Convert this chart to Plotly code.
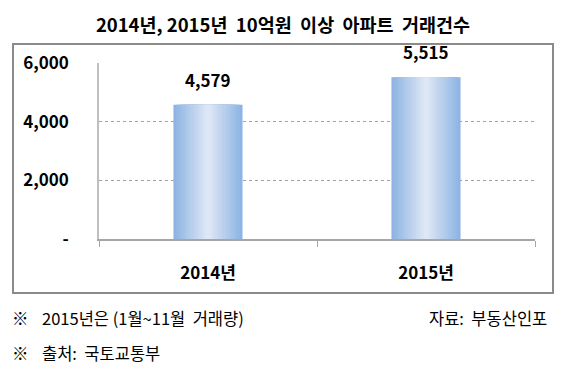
import plotly.graph_objects as go

categories = ["2014년", "2015년"]
values = [4579, 5515]
value_labels = ["4,579", "5,515"]
y_tickvals = [0, 2000, 4000, 6000]
y_ticktext = ["-", "2,000", "4,000", "6,000"]
title_text = "2014년, 2015년  10억원  이상  아파트  거래건수"
note1 = "2015년은 (1월~11월  거래량)"
note2 = "출처:  국토교통부"
source_text = "자료:  부동산인포"

FONT = "Noto Sans CJK KR, Noto Sans, sans-serif"

OFF = 8  # default body margin of the page
W, H = 565 - OFF, 373 - OFF
L, R, T, B = 99 - OFF, 30, 63 - OFF, 134
pw, ph = W - L - R, H - T - B

def px_x(x):
    return (x - OFF - L) / pw

def px_y(y):
    return (H - B - (y - OFF)) / ph

fig = go.Figure()

# gradient bars: overlaid bars of decreasing width, light at centre
edge = (141, 180, 227)
centre = (222, 231, 245)
N = 14
bar_w = 0.317
for k in range(N):
    t = k / (N - 1)
    c = tuple(round(edge[i] + (centre[i] - edge[i]) * t) for i in range(3))
    fig.add_trace(go.Bar(
        x=categories, y=values,
        width=bar_w * (1 - k / N),
        marker=dict(color="rgb(%d,%d,%d)" % c, line=dict(width=0)),
        hoverinfo="skip", showlegend=False,
    ))

for cat, v, lab in zip(categories, values, value_labels):
    fig.add_annotation(x=cat, y=v, text="<b>%s</b>" % lab, showarrow=False,
                       yanchor="bottom", yshift=11,
                       font=dict(family=FONT, size=17, color="#000"))

# outer frame
fig.add_shape(type="rect", xref="paper", yref="paper",
              x0=px_x(13), x1=px_x(553), y0=px_y(293), y1=px_y(44),
              line=dict(color="#8a8a8a", width=2), layer="below")

# footnotes
for x, y, txt, anchor in [
    (10, 318, "※", "left"), (40, 318, note1, "left"),
    (10, 353, "※", "left"), (40, 353, note2, "left"),
    (549, 318, source_text, "right"),
]:
    fig.add_annotation(xref="paper", yref="paper", x=px_x(x), y=px_y(y),
                       text=txt, showarrow=False, xanchor=anchor, yanchor="middle",
                       font=dict(family=FONT, size=16.5, color="#000"))

fig.update_layout(
    width=W, height=H,
    margin=dict(l=L, r=R, t=T, b=B),
    paper_bgcolor="white", plot_bgcolor="white",
    barmode="overlay",
    title=dict(text="<b>%s</b>" % title_text, x=(283 - OFF) / W, xanchor="center",
               y=1 - (26 - OFF) / H, yanchor="middle",
               font=dict(family=FONT, size=18.5, color="#000")),
    font=dict(family=FONT, color="#000"),
    showlegend=False,
)

fig.update_xaxes(
    type="category", tickson="boundaries", ticks="outside", ticklen=6,
    tickcolor="#a6a6a6", showline=True, linecolor="#a6a6a6", linewidth=1.5,
    showgrid=False, tickfont=dict(family=FONT, size=17, color="#000"),
    tickprefix="<b>", ticksuffix="</b>", ticklabelstandoff=18,
    range=[-0.5, 1.5],
)
fig.update_yaxes(
    range=[0, 6000], tickvals=y_tickvals, ticktext=["<b>%s</b>" % t for t in y_ticktext],
    showgrid=True, gridcolor="#a0a0a0", griddash="dot", gridwidth=1,
    showline=True, linecolor="#bfbfbf", linewidth=1.5, zeroline=False,
    ticks="", ticklabelstandoff=25,
    tickfont=dict(family=FONT, size=17, color="#000"),
)

fig.write_html("out.html")
